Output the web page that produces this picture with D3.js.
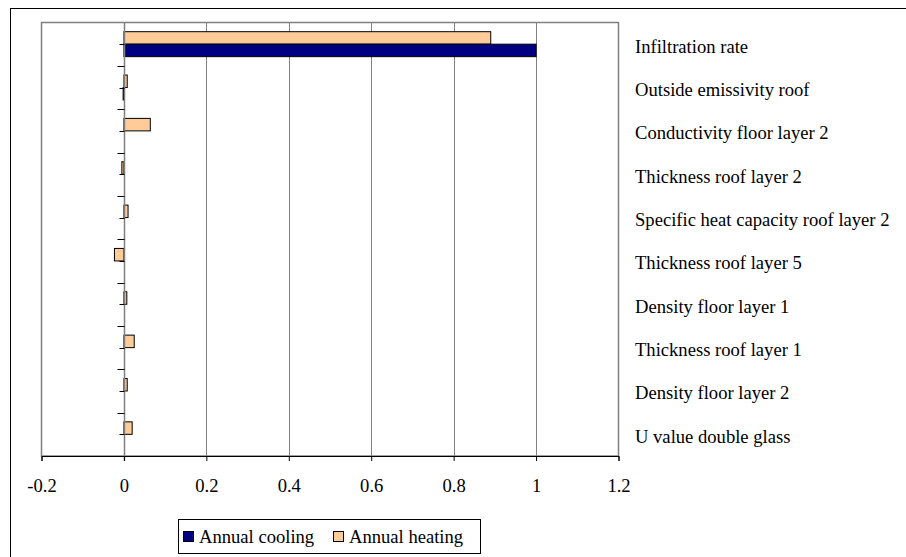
<!DOCTYPE html>
<html>
<head>
<meta charset="utf-8">
<script src="https://cdn.jsdelivr.net/npm/d3@7"></script>
<style>
  html, body { margin: 0; padding: 0; background: #fff; }
  svg { display: block; font-family: "Liberation Serif", "Times New Roman", serif; }
</style>
</head>
<body>
<svg id="chart" width="906" height="557"></svg>
<script>
// Sensitivity of annual cooling / heating to building parameters
const categories = [
  "Infiltration rate",
  "Outside emissivity roof",
  "Conductivity floor layer 2",
  "Thickness roof layer 2",
  "Specific heat capacity roof layer 2",
  "Thickness roof layer 5",
  "Density floor layer 1",
  "Thickness roof layer 1",
  "Density floor layer 2",
  "U value double glass"
];
const seriesNames = ["Annual heating", "Annual cooling"];
const heating = [0.89, 0.008, 0.064, -0.005, 0.01, -0.023, 0.007, 0.025, 0.008, 0.02];
const cooling = [1.0, -0.002, 0, 0, 0, 0, 0, 0, 0, 0];
const xTicks = [-0.2, 0, 0.2, 0.4, 0.6, 0.8, 1, 1.2];
const legendOrder = ["Annual cooling", "Annual heating"];

const colors = { "Annual cooling": "#000080", "Annual heating": "#FFCC99" };
const valuesBySeries = { "Annual heating": heating, "Annual cooling": cooling };
const FONT = 18.6;

const svg = d3.select("#chart");

// outer chart frame
svg.append("rect")
  .attr("x", 10.5).attr("y", 8.5)
  .attr("width", 1000).attr("height", 1000)
  .attr("fill", "none").attr("stroke", "#000").attr("stroke-width", 1);

const plot = { left: 41.5, right: 618.5, top: 22.5, bottom: 456 };

const x = d3.scaleLinear().domain([-0.2, 1.2]).range([plot.left, plot.right]);

const yOuter = d3.scaleBand().domain(categories)
  .range([plot.top, plot.bottom]).paddingInner(0).paddingOuter(0);

const yBars = d3.scaleBand().domain(categories)
  .range([plot.top, plot.bottom]).paddingInner(0.424).paddingOuter(0.212);

const ySeries = d3.scaleBand().domain(seriesNames)
  .range([0, yBars.bandwidth()]).padding(0);

// vertical gridlines
svg.append("g")
  .selectAll("line")
  .data(xTicks.filter(t => t > -0.2 && t !== 0 && t < 1.2))
  .join("line")
  .attr("x1", d => Math.round(x(d)) + 0.5).attr("x2", d => Math.round(x(d)) + 0.5)
  .attr("y1", plot.top).attr("y2", plot.bottom)
  .attr("stroke", "#808080").attr("stroke-width", 1);

// plot area border
svg.append("rect")
  .attr("x", plot.left).attr("y", plot.top)
  .attr("width", plot.right - plot.left).attr("height", plot.bottom - plot.top)
  .attr("fill", "none").attr("stroke", "#808080").attr("stroke-width", 1.5);

// bars
const rows = categories.map((c, i) => ({ c, i }));
const barG = svg.append("g");
seriesNames.forEach(s => {
  barG.selectAll(null)
    .data(rows)
    .join("rect")
    .attr("x", d => x(Math.min(0, valuesBySeries[s][d.i])))
    .attr("width", d => Math.abs(x(valuesBySeries[s][d.i]) - x(0)))
    .attr("y", d => yBars(d.c) + ySeries(s))
    .attr("height", ySeries.bandwidth())
    .attr("fill", colors[s])
    .attr("stroke", "#000")
    .attr("stroke-width", 1)
    .attr("display", d => valuesBySeries[s][d.i] === 0 ? "none" : null);
});

// category axis along zero
const zeroX = Math.round(x(0)) + 0.5;
svg.append("line")
  .attr("x1", zeroX).attr("x2", zeroX)
  .attr("y1", plot.top).attr("y2", plot.bottom + 5)
  .attr("stroke", "#808080").attr("stroke-width", 1.5);

const boundaries = categories.map(c => yOuter(c)).concat([plot.bottom]);
svg.append("g").selectAll("line")
  .data(boundaries.slice(1))
  .join("line")
  .attr("x1", zeroX - 7).attr("x2", zeroX)
  .attr("y1", d => Math.round(d) + 0.5).attr("y2", d => Math.round(d) + 0.5)
  .attr("stroke", "#000").attr("stroke-width", 1);
svg.append("g").selectAll("line")
  .data(categories)
  .join("line")
  .attr("x1", zeroX - 5).attr("x2", zeroX)
  .attr("y1", d => Math.round(yOuter(d) + yOuter.bandwidth() / 2) + 0.5)
  .attr("y2", d => Math.round(yOuter(d) + yOuter.bandwidth() / 2) + 0.5)
  .attr("stroke", "#000").attr("stroke-width", 1);

// category labels on the right
svg.append("g").selectAll("text")
  .data(categories)
  .join("text")
  .attr("x", 635)
  .attr("y", d => yOuter(d) + yOuter.bandwidth() / 2 + 8.5)
  .attr("font-size", FONT)
  .attr("fill", "#000")
  .text(d => d);

// value axis at bottom
const xAxis = d3.axisBottom(x)
  .tickValues(xTicks)
  .tickFormat(d => String(d))
  .tickSize(5);
const xg = svg.append("g")
  .attr("transform", `translate(0,${plot.bottom})`)
  .call(xAxis);
xg.select(".domain").attr("stroke", "#000").attr("stroke-width", 1);
xg.selectAll(".tick line").attr("stroke", "#000");
xg.selectAll(".tick text")
  .attr("y", 36)
  .attr("dy", null)
  .attr("font-size", FONT)
  .attr("font-family", "Liberation Serif, Times New Roman, serif")
  .attr("fill", "#000");

// legend
const lg = svg.append("g");
lg.append("rect")
  .attr("x", 178.5).attr("y", 519.5)
  .attr("width", 302).attr("height", 34)
  .attr("fill", "#fff").attr("stroke", "#000").attr("stroke-width", 1);
const legendX = [183, 333];
legendOrder.forEach((s, i) => {
  lg.append("rect")
    .attr("x", legendX[i] + 0.5).attr("y", 531.5)
    .attr("width", 10).attr("height", 10)
    .attr("fill", colors[s]).attr("stroke", "#000").attr("stroke-width", 1);
  lg.append("text")
    .attr("x", legendX[i] + 16).attr("y", 543)
    .attr("font-size", FONT)
    .attr("fill", "#000")
    .text(s);
});
</script>
</body>
</html>
